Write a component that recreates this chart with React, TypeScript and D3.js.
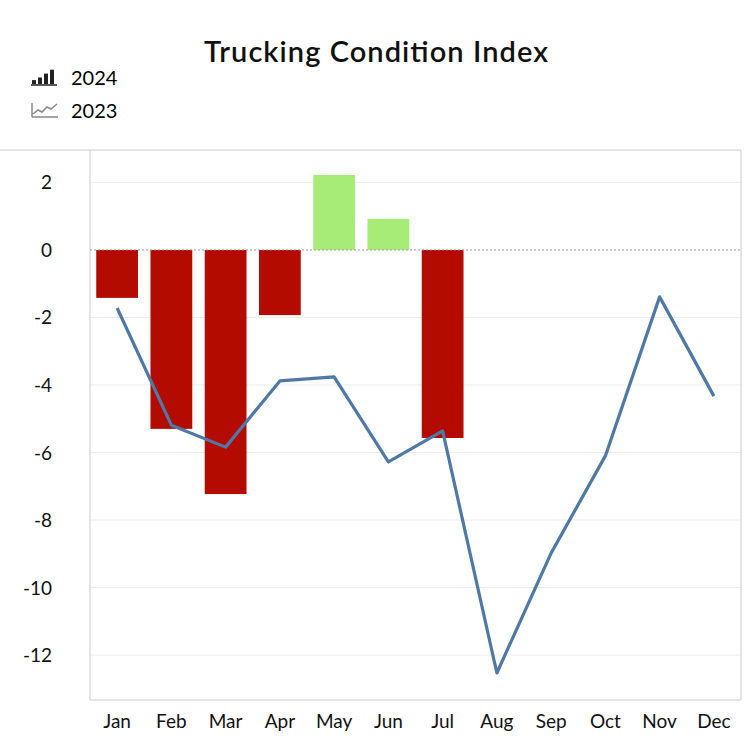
import { useEffect, useRef } from 'react';
import * as d3 from 'd3';

const months = ['Jan', 'Feb', 'Mar', 'Apr', 'May', 'Jun', 'Jul', 'Aug', 'Sep', 'Oct', 'Nov', 'Dec'];
const values2024 = [-1.42, -5.3, -7.23, -1.93, 2.22, 0.92, -5.57];
const values2023 = [-1.72, -5.19, -5.84, -3.88, -3.76, -6.28, -5.36, -12.53, -8.98, -6.1, -1.39, -4.33];
const yTicks = [2, 0, -2, -4, -6, -8, -10, -12];

const App = () => {
  const svgRef = useRef<SVGSVGElement>(null);

  useEffect(() => {
    if (!svgRef.current) return;
    const svg = d3.select(svgRef.current);
    svg.selectAll('*').remove();
    const font = 'Lato, "Open Sans", sans-serif';

    const left = 90, right = 741, top = 150, bottom = 700;

    const x = d3.scaleBand().domain(months).range([left, right]).paddingInner(0.23).paddingOuter(0.115);
    const y = d3.scaleLinear().domain([-13.33, 2.96]).range([bottom, top]);

    svg.append('text').attr('x', 376).attr('y', 62).attr('text-anchor', 'middle')
      .attr('font-family', font).attr('font-size', 29).attr('font-weight', 600).attr('fill', '#111')
      .attr('textLength', 344).text('Trucking Condition Index');

    // legend
    const lg = svg.append('g');
    [[0, 3], [6, 5], [12, 8], [18, 11]].forEach(([dx, h]) => {
      lg.append('rect').attr('x', 32 + dx).attr('y', 84 - h * 1.3).attr('width', 4).attr('height', h * 1.3).attr('fill', '#222');
    });
    lg.append('line').attr('x1', 31).attr('x2', 57).attr('y1', 85).attr('y2', 85).attr('stroke', '#222').attr('stroke-width', 1.5);
    lg.append('path').attr('d', 'M32,117 L32,103 M32,117 L58,117 M33,114 L38,110 L42,112 L47,107 L51,109 L57,104')
      .attr('fill', 'none').attr('stroke', '#888').attr('stroke-width', 1.5);
    lg.append('text').attr('x', 71).attr('y', 85).attr('font-family', font).attr('font-size', 20).text('2024');
    lg.append('text').attr('x', 71).attr('y', 118).attr('font-family', font).attr('font-size', 20).text('2023');

    // grid
    yTicks.forEach(t => {
      if (t === 0) return;
      svg.append('line').attr('x1', left).attr('x2', right).attr('y1', y(t)).attr('y2', y(t))
        .attr('stroke', '#ececec').attr('stroke-width', 1);
    });

    // frame
    svg.append('line').attr('x1', 0).attr('x2', right).attr('y1', top).attr('y2', top).attr('stroke', '#ccc');
    svg.append('line').attr('x1', right).attr('x2', right).attr('y1', top).attr('y2', bottom).attr('stroke', '#ccc');
    svg.append('line').attr('x1', left).attr('x2', left).attr('y1', top).attr('y2', bottom).attr('stroke', '#ccc');
    svg.append('line').attr('x1', left).attr('x2', right).attr('y1', bottom).attr('y2', bottom).attr('stroke', '#ccc');

    // y labels
    svg.append('g').selectAll('text').data(yTicks).enter().append('text')
      .attr('x', 52).attr('y', d => y(d) + 7).attr('text-anchor', 'end')
      .attr('font-family', font).attr('font-size', 19).attr('fill', '#111').text(d => d);

    // x labels
    svg.append('g').selectAll('text').data(months).enter().append('text')
      .attr('x', d => (x(d) || 0) + x.bandwidth() / 2).attr('y', 728).attr('text-anchor', 'middle')
      .attr('font-family', font).attr('font-size', 19).attr('fill', '#111').text(d => d);

    // bars
    svg.append('g').selectAll('rect').data(values2024).enter().append('rect')
      .attr('x', (_, i) => x(months[i]) || 0)
      .attr('width', x.bandwidth())
      .attr('y', d => y(Math.max(0, d)))
      .attr('height', d => Math.abs(y(d) - y(0)))
      .attr('fill', d => (d >= 0 ? '#a8ec78' : '#b30b00'));

    // zero line
    svg.append('line').attr('x1', left).attr('x2', right).attr('y1', y(0)).attr('y2', y(0))
      .attr('stroke', '#999').attr('stroke-dasharray', '2,2');

    // line 2023
    const line = d3.line<number>()
      .x((_, i) => (x(months[i]) || 0) + x.bandwidth() / 2)
      .y(d => y(d));
    svg.append('path').datum(values2023).attr('d', line).attr('fill', 'none')
      .attr('stroke', '#4e79a7').attr('stroke-width', 3.2).attr('stroke-linejoin', 'round');
  }, []);

  return <svg ref={svgRef} width={749} height={749} style={{ position: 'absolute', left: 0, top: 0 }} />;
};

export default App;
